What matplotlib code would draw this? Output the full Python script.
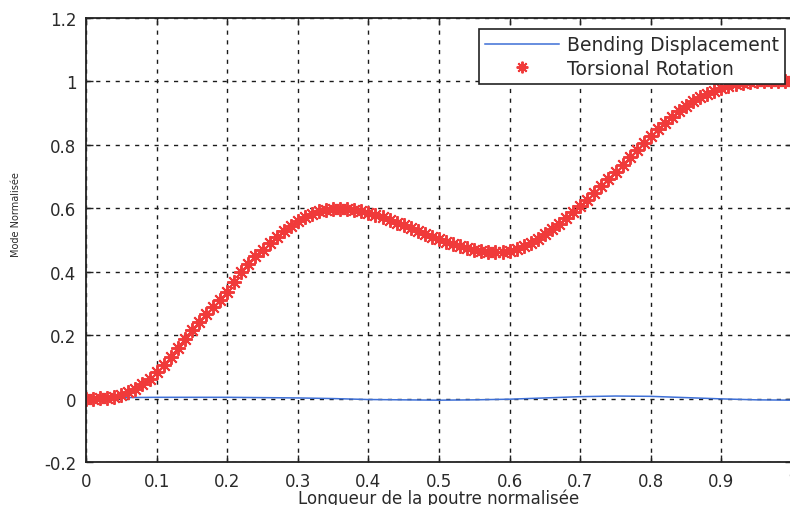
import numpy as np
import matplotlib.pyplot as plt

# Normalised beam length sample points
x_pos = np.linspace(0.0, 1.0, 101)

# Torsional rotation mode (normalised)
torsion = [
    0.000, 0.000, 0.001, 0.003, 0.006, 0.012, 0.020, 0.031, 0.045, 0.063,
    0.085, 0.107, 0.132, 0.160, 0.188, 0.215, 0.242, 0.266, 0.290, 0.312,
    0.336, 0.366, 0.398, 0.425, 0.449, 0.470, 0.490, 0.510, 0.528, 0.545,
    0.560, 0.572, 0.582, 0.590, 0.595, 0.598, 0.599, 0.598, 0.595, 0.591,
    0.586, 0.580, 0.572, 0.564, 0.555, 0.546, 0.537, 0.528, 0.519, 0.511,
    0.503, 0.495, 0.488, 0.481, 0.475, 0.470, 0.466, 0.463, 0.462, 0.463,
    0.466, 0.472, 0.480, 0.491, 0.504, 0.519, 0.535, 0.552, 0.570, 0.588,
    0.606, 0.626, 0.647, 0.669, 0.692, 0.715, 0.738, 0.761, 0.784, 0.806,
    0.828, 0.849, 0.869, 0.888, 0.906, 0.922, 0.937, 0.950, 0.961, 0.971,
    0.980, 0.987, 0.992, 0.996, 0.998, 1.000, 1.000, 1.000, 1.000, 1.000,
    1.000,
]

# Bending displacement mode (almost zero along the beam)
x_bend = [0.00, 0.05, 0.10, 0.15, 0.20, 0.25, 0.30, 0.35, 0.40, 0.45, 0.50,
          0.55, 0.60, 0.65, 0.70, 0.75, 0.80, 0.85, 0.90, 0.95, 1.00]
bending = [0.000, 0.003, 0.004, 0.004, 0.004, 0.003, 0.002, 0.000, -0.003,
           -0.004, -0.005, -0.004, -0.002, 0.002, 0.006, 0.008, 0.007, 0.003,
           -0.001, -0.004, -0.005]

x_ticks = [0, 0.1, 0.2, 0.3, 0.4, 0.5, 0.6, 0.7, 0.8, 0.9, 1]
x_labels = ['0', '0.1', '0.2', '0.3', '0.4', '0.5', '0.6', '0.7', '0.8', '0.9', '1']
y_ticks = [-0.2, 0, 0.2, 0.4, 0.6, 0.8, 1, 1.2]
y_labels = ['-0.2', '0', '0.2', '0.4', '0.6', '0.8', '1', '1.2']

plt.rcParams['font.family'] = ['DejaVu Sans']
txt = '#2a2a2a'

fig = plt.figure(figsize=(7.9, 5.06), dpi=100)
ax = fig.add_axes([86 / 790, 1 - 463 / 506, 706 / 790, 444 / 506])

ax.plot(x_bend, bending, color='#3d6fd6', lw=1.1, label='Bending Displacement')
ax.plot(x_pos, torsion, ls='none', marker=(8, 2, 0), ms=10.5, mew=1.4,
        color='#f03a3a', mec='#f03a3a', label='Torsional Rotation')

ax.set_xlim(0, 1)
ax.set_ylim(-0.2, 1.2)
ax.set_xticks(x_ticks)
ax.set_xticklabels(x_labels)
ax.set_yticks(y_ticks)
ax.set_yticklabels(y_labels)
ax.tick_params(direction='in', length=5, width=1, top=True, right=True,
               labelsize=12, labelcolor=txt, color='#222222', pad=7)
ax.grid(True, color='#1a1a1a', ls=(0, (3, 4)), lw=1.0)
for s in ax.spines.values():
    s.set_color('#222222')
    s.set_linewidth(1.3)

ax.set_xlabel('Longueur de la poutre normalisée', fontsize=12, color=txt, labelpad=-1)
ax.set_ylabel('Mode Normalisée', fontsize=7, color=txt)
ax.yaxis.set_label_coords(-0.092, 0.56)

leg = ax.legend(loc='upper right', bbox_to_anchor=(0.99, 0.975), borderaxespad=0,
                fontsize=13.5, fancybox=False, framealpha=1, edgecolor='#222222',
                handlelength=3.9, handletextpad=0.45, borderpad=0.32,
                labelspacing=0.25, numpoints=1, markerscale=0.8)
leg.get_frame().set_linewidth(1.2)
for t in leg.get_texts():
    t.set_color(txt)

fig.savefig('out.png', dpi=100)
